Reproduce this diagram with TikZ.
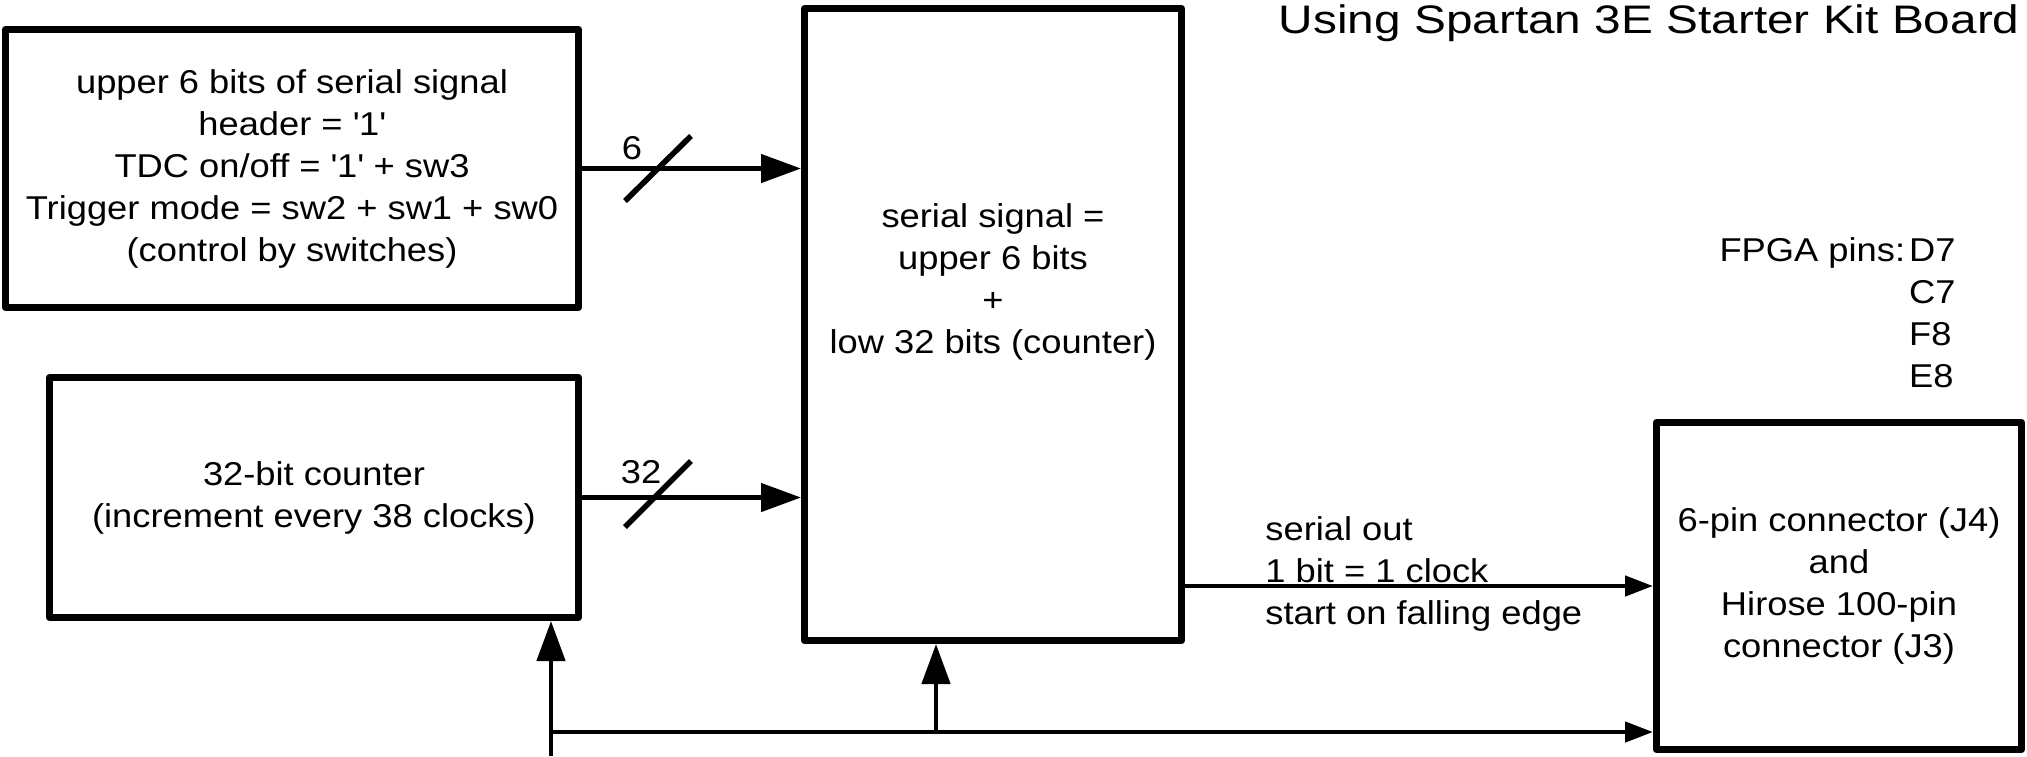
\documentclass[tikz,border=0pt]{standalone}
\usepackage{fontspec}
\setmainfont{Liberation Sans}[FakeStretch=1.1]
\newfontfamily\titlefont{Liberation Sans}[FakeStretch=1.2]
\usetikzlibrary{positioning,arrows.meta,calc}

\begin{document}
\begin{tikzpicture}[
  x=0.5pt, y=-0.5pt,
  font=\fontsize{16.5}{21}\selectfont,
  every node/.style={inner sep=0pt},
  toptext/.style={execute at begin node={\rule{0pt}{16.5pt}}},
  blockbox/.style={
    rectangle, draw=black, line width=3.5pt, line join=round,
    align=center, toptext,
  },
  arr/.style={-{Triangle[length=20pt,width=14pt]}, line width=2.3pt},
  arrsmall/.style={-{Triangle[length=14pt,width=10pt]}, line width=2.3pt},
  busslash/.style={line width=2.8pt},
]
\useasboundingbox (0,0) rectangle (2027,756);

%---------- blocks ----------
\node[blockbox, minimum width=286.5pt, minimum height=139pt] (hdr) at (292,168.5)
  {upper 6 bits of serial signal\\
   header = \textquotesingle 1\textquotesingle\\
   TDC on/off = \textquotesingle 1\textquotesingle{} + sw3\\
   Trigger mode = sw2 + sw1 + sw0\\
   (control by switches)};
\node[blockbox, minimum width=264.5pt, minimum height=120pt] (cnt) at (314,497.5)
  {32-bit counter\\(increment every 38 clocks)};
\node[blockbox, minimum width=188.5pt, minimum height=316pt] (ser) at (993,324.5) {};
\node[align=center, toptext] (sertxt) at (993,282)
  {serial signal =\\upper 6 bits\\+\\low 32 bits (counter)};
\node[blockbox, minimum width=182.5pt, minimum height=163.5pt] (con) at (1839,586)
  {6-pin connector (J4)\\and\\Hirose 100-pin\\connector (J3)};

%---------- texts ----------
\node[anchor=base east, font=\titlefont\fontsize{19.9}{24}\selectfont] (title) at (2020,33)
  {Using Spartan 3E Starter Kit Board};
\node (fpga) at (1837.5,316)
  {\begin{tabular}{@{}r@{\hspace{2pt}}l@{}}FPGA pins:&D7\\&C7\\&F8\\&E8\end{tabular}};
\node[anchor=west, align=left] (sout) at (1265,573.5)
  {serial out\\1 bit = 1 clock\\start on falling edge};
\node (w6) at (632,148) {6};
\node (w32) at (641,472) {32};

%---------- connectors ----------
\draw[arr] (hdr.east) -- (hdr.east -| ser.west);
\draw[arr] (cnt.east) -- (cnt.east -| ser.west);
\draw[arrsmall] (ser.east |- con.west) -- (con.west);

\coordinate (clkin) at (551,756);
\coordinate (clkjoin) at (551,732);
\coordinate (clktap) at (936,732);
\draw[arr] (clkin) -- (clkin |- cnt.south);
\draw[arrsmall] (clkjoin) -- (clkjoin -| con.west);
\draw[arr] (clktap) -- (clktap |- ser.south);

%---------- bus width marks ----------
\coordinate (s6) at (658,168.5);
\coordinate (s32) at (658,494);
\draw[busslash] ($(s6)+(-33,32.5)$) -- ($(s6)+(33,-32.5)$);
\draw[busslash] ($(s32)+(-33,33)$) -- ($(s32)+(33,-33)$);

\end{tikzpicture}
\end{document}
